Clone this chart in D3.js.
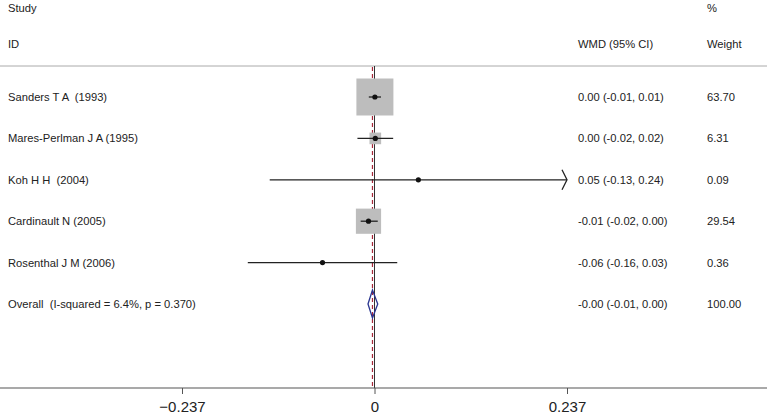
<!DOCTYPE html>
<html>
<head>
<meta charset="utf-8">
<script src="https://cdn.jsdelivr.net/npm/d3@7"></script>
<style>
  body { margin: 0; background: #fff; }
  text { font-family: "Liberation Sans", Arial, sans-serif; white-space: pre; }
</style>
</head>
<body>
<div id="chartDIV"></div>
<script>
// study data
var studies = ["Sanders T A  (1993)", "Mares-Perlman J A (1995)", "Koh H H  (2004)",
               "Cardinault N (2005)", "Rosenthal J M (2006)"]
var estimates = [0.0005, 0.001, 0.054, -0.0074, -0.064]
var lowerCI = [-0.007, -0.021, -0.129, -0.017, -0.156]
var upperCI = [0.008, 0.023, 0.24, 0.004, 0.028]
var weights = [63.70, 6.31, 0.09, 29.54, 0.36]
var ciText = ["0.00 (-0.01, 0.01)", "0.00 (-0.02, 0.02)", "0.05 (-0.13, 0.24)",
              "-0.01 (-0.02, 0.00)", "-0.06 (-0.16, 0.03)"]

// pooled result
var overallLabel = "Overall  (I-squared = 6.4%, p = 0.370)"
var overallEst = -0.0025
var overallLo = -0.008
var overallHi = 0.004
var overallText = "-0.00 (-0.01, 0.00)"
var overallWeight = 100.00

var xTicks = [-0.237, 0, 0.237]

var width = 767
var height = 419
var font = 11.2

var svg = d3.select("#chartDIV").append("svg")
  .attr("width", width)
  .attr("height", height)

var x = d3.scaleLinear()
  .domain([-0.237, 0.237])
  .range([182, 567])

// one row per study plus the overall row
var rows = studies.concat([overallLabel])
var y = d3.scalePoint()
  .domain(rows)
  .range([97, 304])

// box side grows with sqrt of weight
var boxSide = d3.scaleSqrt()
  .domain([0, 63.70])
  .range([0, 37])

// plain text helper (headers and row columns)
function header(txt, xx, yy){
  svg.append("text")
    .attr("x", xx)
    .attr("y", yy)
    .attr("dominant-baseline", "central")
    .attr("xml:space", "preserve")
    .style("font-size", `${font}px`)
    .style("fill", "#222")
    .text(txt)
}
header("Study", 8, 8)
header("ID", 8, 44)
header("WMD (95% CI)", 578, 44)
header("%", 707, 8)
header("Weight", 707, 44)

svg.append("line")
  .attr("x1", 0).attr("x2", width)
  .attr("y1", 66).attr("y2", 66)
  .style("stroke", "#aaa")
  .style("stroke-width", 1)

// null line and pooled estimate line
svg.append("line")
  .attr("x1", x(0)).attr("x2", x(0))
  .attr("y1", 66).attr("y2", 388)
  .style("stroke", "#333")
  .style("stroke-width", 1)

svg.append("line")
  .attr("x1", x(overallEst)).attr("x2", x(overallEst))
  .attr("y1", 67).attr("y2", 388)
  .style("stroke", "#a8283a")
  .style("stroke-width", 1.2)
  .style("stroke-dasharray", "4,3")

// weight boxes
studies.forEach(function(s, i){
  var side = boxSide(weights[i])
  svg.append("rect")
    .attr("x", x(estimates[i]) - side/2)
    .attr("y", y(s) - side/2)
    .attr("width", side)
    .attr("height", side)
    .style("fill", "#bdbdbd")
})

// confidence intervals and point estimates
studies.forEach(function(s, i){
  var lo = Math.max(lowerCI[i], x.domain()[0])
  var hi = Math.min(upperCI[i], x.domain()[1])
  svg.append("line")
    .attr("x1", x(lo)).attr("x2", x(hi))
    .attr("y1", y(s)).attr("y2", y(s))
    .style("stroke", "#222")
    .style("stroke-width", 1.3)

  // clipped interval gets an open arrow head
  if (upperCI[i] > x.domain()[1]){
    var tip = x(hi)
    svg.append("path")
      .attr("d", `M${tip-5},${y(s)-10} L${tip},${y(s)} L${tip-5},${y(s)+10}`)
      .style("fill", "none")
      .style("stroke", "#222")
      .style("stroke-width", 1.3)
  }

  svg.append("circle")
    .attr("cx", x(estimates[i]))
    .attr("cy", y(s))
    .attr("r", 2.6)
    .style("fill", "#111")
})

// pooled diamond
var oy = y(overallLabel)
svg.append("polygon")
  .attr("points", `${x(overallLo)},${oy} ${x(overallEst)},${oy-14} ${x(overallHi)},${oy} ${x(overallEst)},${oy+14}`)
  .style("fill", "none")
  .style("stroke", "#2a3590")
  .style("stroke-width", 1.3)

// row text
rows.forEach(function(r, i){
  var isOverall = i == studies.length
  header(r, 8, y(r))
  header(isOverall ? overallText : ciText[i], 578, y(r))
  header((isOverall ? overallWeight : weights[i]).toFixed(2), 707, y(r))
})

// x axis, line runs across the whole width
svg.append("line")
  .attr("x1", 0).attr("x2", width)
  .attr("y1", 388).attr("y2", 388)
  .style("stroke", "#555")
  .style("stroke-width", 1.2)

var axis = svg.append("g")
  .attr("transform", "translate(0,388)")
  .call(d3.axisBottom(x)
    .tickValues(xTicks)
    .tickSize(6)
    .tickPadding(7)
    .tickFormat(function(d){ return d == 0 ? "0" : d3.format(".3f")(d) }))

axis.select(".domain").remove()
axis.selectAll(".tick line")
  .style("stroke", "#555")
axis.selectAll(".tick text")
  .style("font-size", "15px")
  .style("fill", "#222")
</script>
</body>
</html>
